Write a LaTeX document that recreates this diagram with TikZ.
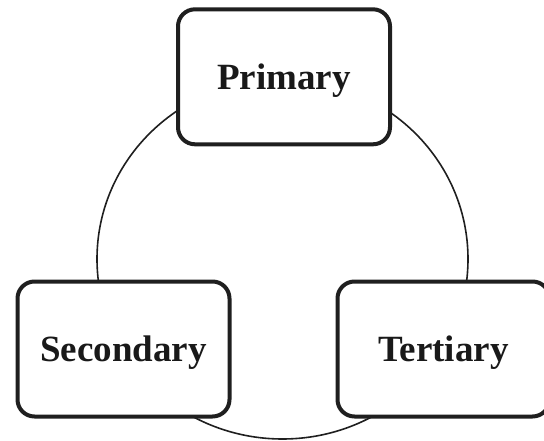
\documentclass[tikz,border=0pt]{standalone}
\usepackage{fontspec}
\setmainfont{Liberation Serif}
\begin{document}
\begin{tikzpicture}[x=1pt,y=-1pt,
  box/.style={draw=black!88, line width=4pt, rounded corners=17pt, fill=white,
    minimum width=212pt, minimum height=135pt, inner sep=0pt,
    text height=25pt, text depth=0pt,
    font=\fontsize{37}{44}\selectfont\bfseries, text=black!90},
  ring/.style={draw=black!88, line width=1.6pt}]
\useasboundingbox (0,0) rectangle (544,441);
\draw[ring] (282.5,259) ellipse [x radius=185.5pt, y radius=180pt];
\node[box] (primary) at (284,76.8) {Primary};
\node[box] (secondary) at (123.5,349) {Secondary};
\node[box] (tertiary) at (443.5,349) {Tertiary};
\end{tikzpicture}
\end{document}
